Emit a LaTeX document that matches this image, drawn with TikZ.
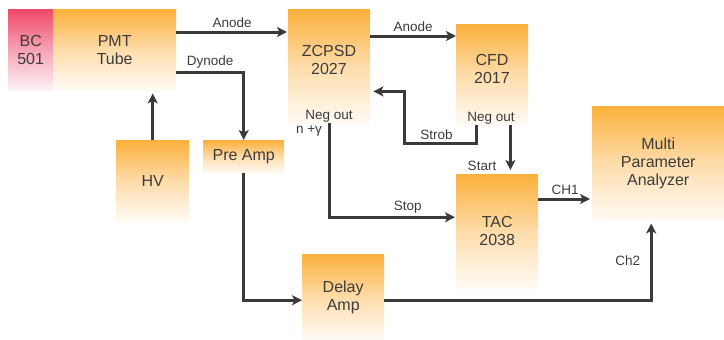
\documentclass[tikz,border=0pt]{standalone}
\usepackage{fontspec}
\setmainfont{Liberation Sans}
\usetikzlibrary{arrows.meta}
\definecolor{otop}{HTML}{FBB03B}
\definecolor{omid}{HTML}{FEDCAA}
\definecolor{obot}{HTML}{FFFBF6}
\definecolor{rtop}{HTML}{EF4868}
\definecolor{rmid}{HTML}{F6A3B4}
\definecolor{rbot}{HTML}{FDF2F5}
\definecolor{txt}{HTML}{3C3C3C}
\definecolor{ln}{HTML}{3A3A3A}
\tikzset{
  box/.style={draw=none, top color=otop, bottom color=obot, middle color=omid, anchor=north west,
    inner sep=0pt, align=center, text=txt, font=\fontsize{16}{18}\selectfont},
  redbox/.style={box, top color=rtop, bottom color=rbot, middle color=rmid},
  boxtext/.style={inner sep=0pt, align=center, text=txt, font=\fontsize{16}{18}\selectfont},
  lbl/.style={inner sep=1.5pt, text=txt, font=\fontsize{13.5}{15}\selectfont},
  arr/.style={draw=ln, line width=3pt, -{Stealth[length=10pt,width=10pt,inset=2.5pt]}},
}
\begin{document}
\begin{tikzpicture}[x=1pt,y=-1pt]
\useasboundingbox (0,0) rectangle (724,340);
% boxes
\node[redbox, minimum width=45pt, minimum height=81pt] (bc) at (8,9) {BC\\501};
\node[box, minimum width=123pt, minimum height=81pt] (pmt) at (53,9) {PMT\\Tube};
\node[box, minimum width=73pt, minimum height=82pt] (hv) at (116,140) {HV};
\node[box, minimum width=81pt, minimum height=33pt] (pre) at (203,140) {Pre Amp};
\node[box, minimum width=82pt, minimum height=114pt] (zc) at (288,9) {};
\node[boxtext] (zct) at (329,59.5) {ZCPSD\\2027};
\node[lbl] (zcn) at (329,116) {Neg out};
\node[box, minimum width=72pt, minimum height=101pt] (cfd) at (456,24) {};
\node[boxtext] (cfdt) at (492,68.5) {CFD\\2017};
\node[lbl] (cfdn) at (491,118) {Neg out};
\node[box, minimum width=82pt, minimum height=114pt] (tac) at (456,174) {TAC\\2038};
\node[box, minimum width=132pt, minimum height=114pt] (mpa) at (592,106) {Multi\\Parameter\\Analyzer};
\node[box, minimum width=82pt, minimum height=86pt] (delay) at (302,254) {Delay\\Amp};
% extra labels
\node[lbl] (ng) at (309,131) {n +γ};
\node[lbl] (start) at (482,166) {Start};
% connectors
\draw[arr, shorten >=1pt] ([yshift=-23pt]pmt.north east) -- ([yshift=-23pt]pmt.north east -| zc.west)
  node[lbl, midway, above=1pt] (la1) {Anode};
\draw[arr] ([yshift=-63pt]pmt.north east) -| (pre.north)
  node[lbl, pos=0.25, above=1pt] (ldy) {Dynode};
\draw[arr, shorten >=3pt] (hv.north) -- (hv.north |- pmt.south);
\draw[arr] (pre.south) |- ([yshift=-3pt]delay.west);
\draw[arr, shorten >=3pt] ([yshift=-3pt]delay.east) -| ([xshift=-7pt]mpa.south)
  node[lbl, pos=0.75, left=8pt] (lch2) {Ch2};
\draw[arr, shorten >=1pt] (zc.south) |- ([yshift=14pt]tac.west)
  node[lbl, pos=0.81, above=1pt] (lstop) {Stop};
\draw[arr] ([yshift=-27pt]zc.north east) -- ([yshift=-27pt]zc.north east -| cfd.west)
  node[lbl, midway, above=1pt] (la2) {Anode};
\draw[arr, shorten >=3pt] ([xshift=20pt]cfd.south west) -- ++(0,18) -- ++(-72,0)
  node[lbl, pos=0.55, above=1pt] (lstrob) {Strob}
  -- ++(0,-52) coordinate (sb) -- (sb -| zc.east);
\draw[arr, shorten >=4pt] ([xshift=-18pt]cfd.south east) -- ([xshift=-18pt]cfd.south east |- tac.north);
\draw[arr, shorten >=2pt] ([yshift=-25pt]tac.north east) -- ([yshift=-25pt]tac.north east -| mpa.west)
  node[lbl, midway, above=1pt] (lch1) {CH1};
\end{tikzpicture}
\end{document}
